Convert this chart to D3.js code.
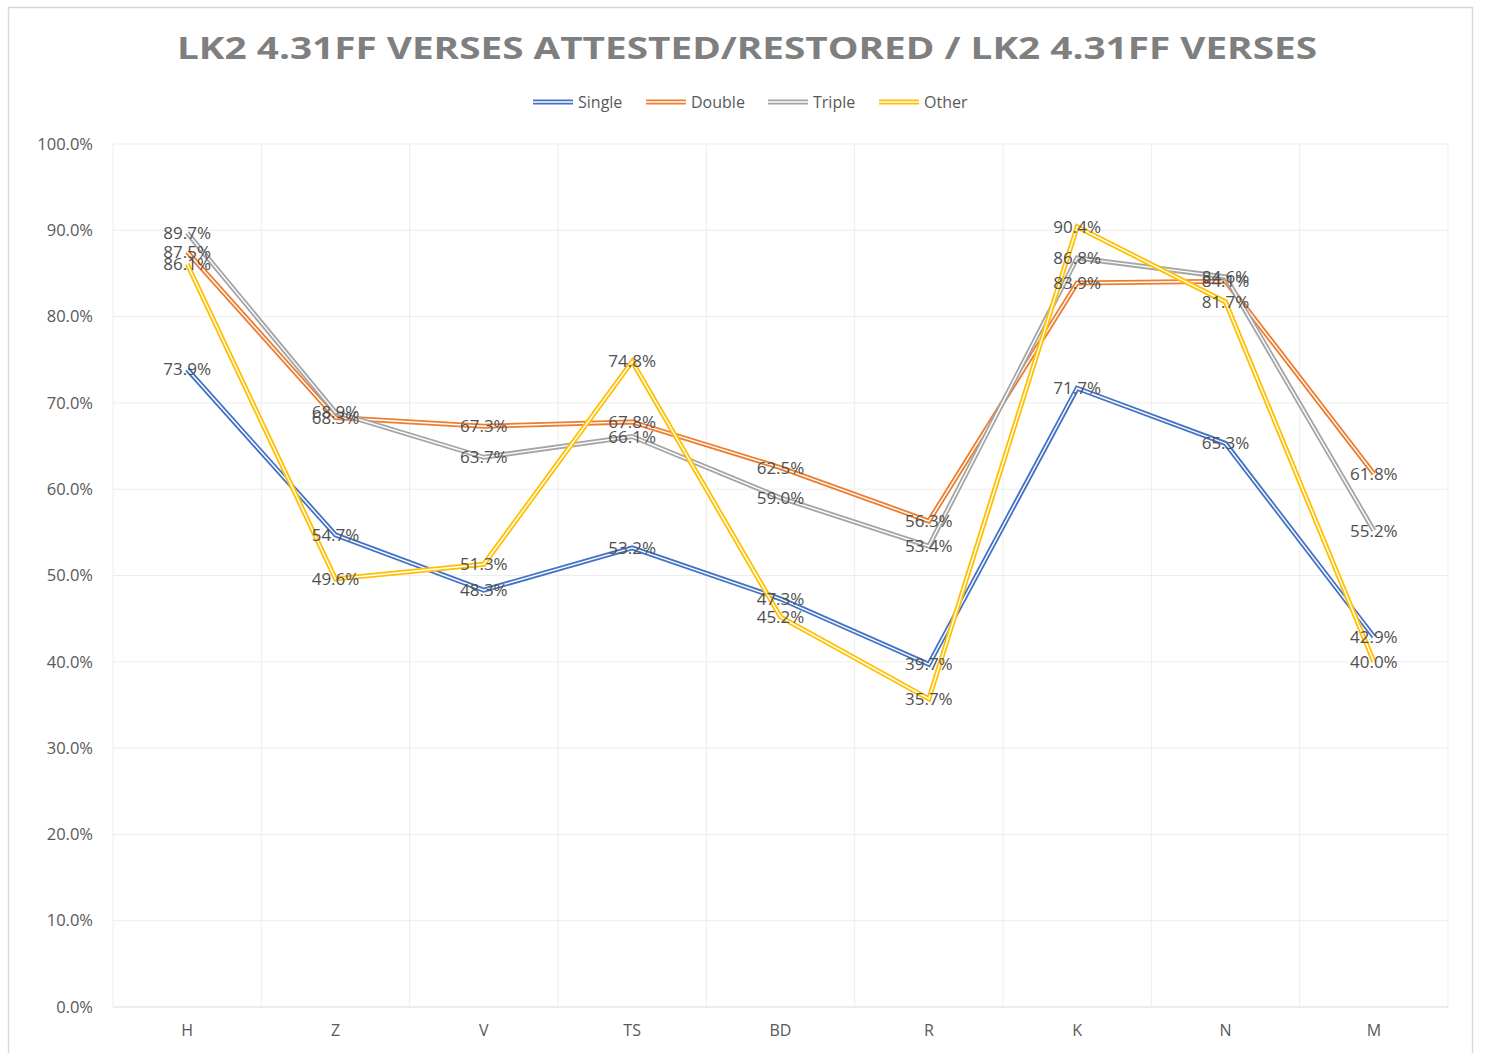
<!DOCTYPE html>
<html>
<head>
<meta charset="utf-8">
<script src="https://cdn.jsdelivr.net/npm/d3@7"></script>
<style>
  body { margin: 0; background: #fff; }
  text { font-family: "Open Sans", "Liberation Sans", sans-serif; }
</style>
</head>
<body>
<div class="container"></div>
<script>
const categories = ["H", "Z", "V", "TS", "BD", "R", "K", "N", "M"];
const single = [73.9, 54.7, 48.3, 53.2, 47.3, 39.7, 71.7, 65.3, 42.9];
const double = [87.5, 68.3, 67.3, 67.8, 62.5, 56.3, 83.9, 84.1, 61.8];
const triple = [89.7, 68.9, 63.7, 66.1, 59.0, 53.4, 86.8, 84.6, 55.2];
const other  = [86.1, 49.6, 51.3, 74.8, 45.2, 35.7, 90.4, 81.7, 40.0];
const yTicks = [0, 10, 20, 30, 40, 50, 60, 70, 80, 90, 100];

const series = [
    {name: "Single", values: single, color: "#4472C4"},
    {name: "Double", values: double, color: "#ED7D31"},
    {name: "Triple", values: triple, color: "#A5A5A5"},
    {name: "Other",  values: other,  color: "#FFC000"}
];

const width = 1493;
const height = 1053;
const margin = {left: 113, right: 45, top: 144, bottom: 46};

const svg = d3.select("div.container")
    .append("svg")
    .attr("width", width)
    .attr("height", height);

// chart frame
svg.append("rect")
    .attr("x", 8.5).attr("y", 7.5)
    .attr("width", 1464).attr("height", 1060)
    .attr("fill", "#fff").attr("stroke", "#D9D9D9").attr("stroke-width", 1.5);

const x = d3.scaleBand().domain(categories).range([margin.left, width - margin.right]);
const y = d3.scaleLinear().domain([0, 100]).range([height - margin.bottom, margin.top]);

// gridlines
svg.append("g")
    .selectAll("line.h")
    .data(yTicks)
    .enter()
    .append("line")
    .attr("x1", x.range()[0]).attr("x2", x.range()[1])
    .attr("y1", d => y(d)).attr("y2", d => y(d))
    .attr("stroke", d => d === 0 ? "#D9D9D9" : "#EDEDED")
    .attr("stroke-width", 1);

svg.append("g")
    .selectAll("line.v")
    .data(categories.concat(["end"]))
    .enter()
    .append("line")
    .attr("x1", (d, i) => x.range()[0] + i * x.step())
    .attr("x2", (d, i) => x.range()[0] + i * x.step())
    .attr("y1", y(0)).attr("y2", y(100))
    .attr("stroke", "#EDEDED")
    .attr("stroke-width", 1);

// axes
const yAxis = svg.append("g")
    .attr("transform", `translate(${margin.left - 17},0)`)
    .call(d3.axisLeft(y).tickValues(yTicks).tickSize(0).tickFormat(d => d.toFixed(1) + "%"));
yAxis.select(".domain").remove();
yAxis.selectAll("text")
    .attr("fill", "#595959").style("font-size", "16.5px");

const xAxis = svg.append("g")
    .attr("transform", `translate(0,${y(0) + 15})`)
    .call(d3.axisBottom(x).tickSize(0));
xAxis.select(".domain").remove();
xAxis.selectAll("text")
    .attr("fill", "#595959").style("font-size", "16px");

// lines (double compound stroke)
const line = d3.line()
    .x((d, i) => x(categories[i]) + x.bandwidth() / 2)
    .y(d => y(d));

for (let s of series) {
    const g = svg.append("g");
    g.append("path")
        .attr("d", line(s.values))
        .attr("fill", "none")
        .attr("stroke", s.color)
        .attr("stroke-width", 5)
        .attr("stroke-linejoin", "miter");
    g.append("path")
        .attr("d", line(s.values))
        .attr("fill", "none")
        .attr("stroke", "#fff")
        .attr("stroke-width", 1.4)
        .attr("stroke-linejoin", "miter");
}

// data labels
for (let s of series) {
    svg.append("g")
        .selectAll("text")
        .data(s.values)
        .enter()
        .append("text")
        .attr("x", (d, i) => x(categories[i]) + x.bandwidth() / 2)
        .attr("y", d => y(d))
        .attr("dy", "0.35em")
        .attr("text-anchor", "middle")
        .attr("fill", "#505050")
        .style("font-size", "17px")
        .text(d => d.toFixed(1) + "%");
}

// title
svg.append("text")
    .attr("x", 747).attr("y", 59)
    .attr("text-anchor", "middle")
    .attr("fill", "#7F7F7F")
    .style("font-size", "31px")
    .style("font-weight", "bold")
    .attr("textLength", 1140)
    .attr("lengthAdjust", "spacingAndGlyphs")
    .text("LK2 4.31FF VERSES ATTESTED/RESTORED / LK2 4.31FF VERSES");

// legend
const legendX = [533, 646, 768, 879];
const legend = svg.append("g")
    .selectAll("g")
    .data(series)
    .enter()
    .append("g")
    .attr("transform", (d, i) => `translate(${legendX[i]},102)`);
legend.append("line")
    .attr("x1", 0).attr("x2", 40).attr("y1", 0).attr("y2", 0)
    .attr("stroke", d => d.color).attr("stroke-width", 5);
legend.append("line")
    .attr("x1", 0).attr("x2", 40).attr("y1", 0).attr("y2", 0)
    .attr("stroke", "#fff").attr("stroke-width", 1.4);
legend.append("text")
    .attr("x", 45).attr("y", 0).attr("dy", "0.35em")
    .attr("fill", "#595959")
    .style("font-size", "16px")
    .text(d => d.name);
</script>
</body>
</html>
